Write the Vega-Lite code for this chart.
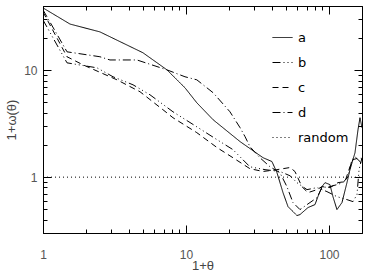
{
  "$schema": "https://vega.github.io/schema/vega-lite/v6.json",
  "width": 319,
  "height": 227,
  "autosize": {"type": "none"},
  "padding": {"left": 43, "top": 6, "right": 7, "bottom": 42},
  "config": {
    "view": {"stroke": "black", "strokeWidth": 1},
    "axis": {
      "grid": false,
      "domainColor": "black",
      "tickColor": "black",
      "labelColor": "#555555",
      "labelFont": "Liberation Sans",
      "labelFontSize": 12,
      "labelOverlap": false,
      "labelFlush": false,
      "titleFont": "Liberation Sans",
      "titleFontSize": 13,
      "titleFontWeight": "normal",
      "titleColor": "#444444"
    }
  },
  "data": {
    "values": [
      {"s": "a", "x": 1, "y": 38.4},
      {"s": "a", "x": 1.545, "y": 27.1},
      {"s": "a", "x": 2.5, "y": 22.9},
      {"s": "a", "x": 5.0, "y": 14.6},
      {"s": "a", "x": 7.36, "y": 10.1},
      {"s": "a", "x": 9.84, "y": 6.86},
      {"s": "a", "x": 11.9, "y": 4.97},
      {"s": "a", "x": 15.5, "y": 3.44},
      {"s": "a", "x": 23.9, "y": 2.15},
      {"s": "a", "x": 34.6, "y": 1.52},
      {"s": "a", "x": 39.9, "y": 1.4},
      {"s": "a", "x": 43.3, "y": 1.1},
      {"s": "a", "x": 47.7, "y": 0.716},
      {"s": "a", "x": 51.7, "y": 0.53},
      {"s": "a", "x": 59.7, "y": 0.437},
      {"s": "a", "x": 62.7, "y": 0.446},
      {"s": "a", "x": 71.3, "y": 0.519},
      {"s": "a", "x": 79.8, "y": 0.553},
      {"s": "a", "x": 83.7, "y": 0.657},
      {"s": "a", "x": 89.3, "y": 0.815},
      {"s": "a", "x": 93.8, "y": 0.888},
      {"s": "a", "x": 101.6, "y": 0.851},
      {"s": "a", "x": 106.6, "y": 0.657},
      {"s": "a", "x": 113.7, "y": 0.497},
      {"s": "a", "x": 123.3, "y": 0.578},
      {"s": "a", "x": 133.6, "y": 0.888},
      {"s": "a", "x": 140.2, "y": 1.175},
      {"s": "a", "x": 152.0, "y": 1.69},
      {"s": "a", "x": 159.6, "y": 2.78},
      {"s": "a", "x": 164.8, "y": 3.6},
      {"s": "a", "x": 170.2, "y": 2.9},

      {"s": "b", "x": 1, "y": 29.6},
      {"s": "b", "x": 1.472, "y": 11.75},
      {"s": "b", "x": 2.386, "y": 10.55},
      {"s": "b", "x": 3.09, "y": 8.7},
      {"s": "b", "x": 4.26, "y": 7.32},
      {"s": "b", "x": 5.6, "y": 5.9},
      {"s": "b", "x": 8.11, "y": 4.09},
      {"s": "b", "x": 11.9, "y": 2.96},
      {"s": "b", "x": 16.5, "y": 2.24},
      {"s": "b", "x": 21.3, "y": 1.81},
      {"s": "b", "x": 28.0, "y": 1.25},
      {"s": "b", "x": 35.7, "y": 1.175},
      {"s": "b", "x": 45.4, "y": 1.13},
      {"s": "b", "x": 53.4, "y": 1.03},
      {"s": "b", "x": 59.7, "y": 0.888},
      {"s": "b", "x": 70.2, "y": 0.764},
      {"s": "b", "x": 82.5, "y": 0.798},
      {"s": "b", "x": 96.8, "y": 0.732},
      {"s": "b", "x": 113.7, "y": 0.657},
      {"s": "b", "x": 133.6, "y": 0.616},
      {"s": "b", "x": 147.2, "y": 0.59},
      {"s": "b", "x": 157.0, "y": 0.686},
      {"s": "b", "x": 162.3, "y": 1.175},
      {"s": "b", "x": 170.2, "y": 1.52},

      {"s": "c", "x": 1, "y": 35.2},
      {"s": "c", "x": 1.472, "y": 13.4},
      {"s": "c", "x": 1.905, "y": 11.25},
      {"s": "c", "x": 3.29, "y": 8.15},
      {"s": "c", "x": 4.77, "y": 6.3},
      {"s": "c", "x": 6.91, "y": 4.27},
      {"s": "c", "x": 8.11, "y": 3.6},
      {"s": "c", "x": 11.9, "y": 2.61},
      {"s": "c", "x": 16.5, "y": 1.89},
      {"s": "c", "x": 21.3, "y": 1.52},
      {"s": "c", "x": 28.0, "y": 1.2},
      {"s": "c", "x": 34.6, "y": 1.13},
      {"s": "c", "x": 43.3, "y": 1.175},
      {"s": "c", "x": 53.4, "y": 1.23},
      {"s": "c", "x": 57.8, "y": 1.13},
      {"s": "c", "x": 64.7, "y": 0.815},
      {"s": "c", "x": 71.3, "y": 0.716},
      {"s": "c", "x": 82.5, "y": 0.764},
      {"s": "c", "x": 89.3, "y": 0.815},
      {"s": "c", "x": 101.6, "y": 0.798},
      {"s": "c", "x": 115.6, "y": 0.888},
      {"s": "c", "x": 129.4, "y": 0.908},
      {"s": "c", "x": 140.2, "y": 1.25},
      {"s": "c", "x": 147.2, "y": 1.46},
      {"s": "c", "x": 164.8, "y": 1.52},
      {"s": "c", "x": 170.2, "y": 1.46},

      {"s": "d", "x": 1, "y": 36.8},
      {"s": "d", "x": 1.472, "y": 14.9},
      {"s": "d", "x": 2.5, "y": 13.4},
      {"s": "d", "x": 2.94, "y": 12.5},
      {"s": "d", "x": 4.54, "y": 12.5},
      {"s": "d", "x": 7.36, "y": 10.1},
      {"s": "d", "x": 9.84, "y": 8.7},
      {"s": "d", "x": 11.9, "y": 8.15},
      {"s": "d", "x": 15.5, "y": 6.16},
      {"s": "d", "x": 20.3, "y": 4.09},
      {"s": "d", "x": 23.9, "y": 2.9},
      {"s": "d", "x": 25.9, "y": 2.39},
      {"s": "d", "x": 28.0, "y": 1.93},
      {"s": "d", "x": 32.9, "y": 1.52},
      {"s": "d", "x": 38.7, "y": 1.25},
      {"s": "d", "x": 45.4, "y": 1.1},
      {"s": "d", "x": 50.8, "y": 0.815},
      {"s": "d", "x": 56.0, "y": 0.578},
      {"s": "d", "x": 62.7, "y": 0.497},
      {"s": "d", "x": 70.2, "y": 0.553},
      {"s": "d", "x": 82.5, "y": 0.643},
      {"s": "d", "x": 89.3, "y": 0.798},
      {"s": "d", "x": 101.6, "y": 0.815},
      {"s": "d", "x": 113.7, "y": 0.851},
      {"s": "d", "x": 125.3, "y": 0.888},
      {"s": "d", "x": 135.8, "y": 1.01},
      {"s": "d", "x": 144.9, "y": 1.46},
      {"s": "d", "x": 152.0, "y": 1.55},
      {"s": "d", "x": 164.8, "y": 1.4},
      {"s": "d", "x": 170.2, "y": 1.31},

      {"s": "random", "x": 1, "y": 1},
      {"s": "random", "x": 170.2, "y": 1}
    ]
  },
  "layer": [
    {
      "transform": [{"filter": "datum.s != 'random'"}],
      "mark": {"type": "line", "color": "black", "strokeWidth": 1, "clip": true},
      "encoding": {
        "x": {
          "field": "x", "type": "quantitative",
          "scale": {"type": "log", "domain": [1, 170.2], "nice": false},
          "axis": {
            "orient": "bottom",
            "values": [1,2,3,4,5,6,7,8,9,10,20,30,40,50,60,70,80,90,100],
            "labelExpr": "(datum.value == 1 || datum.value == 10 || datum.value == 100) ? format(datum.value, 'd') : ''",
            "tickSize": {"condition": {"test": "datum.value == 1 || datum.value == 10 || datum.value == 100", "value": -8}, "value": -4},
            "labelPadding": 24,
            "title": "1+θ",
            "titlePadding": -5
          }
        },
        "y": {
          "field": "y", "type": "quantitative",
          "scale": {"type": "log", "domain": [0.3, 40], "nice": false},
          "axis": {
            "orient": "left",
            "values": [0.4,0.5,0.6,0.7,0.8,0.9,1,2,3,4,5,6,7,8,9,10,20,30],
            "labelExpr": "(datum.value == 1 || datum.value == 10) ? format(datum.value, 'd') : ''",
            "tickSize": {"condition": {"test": "datum.value == 1 || datum.value == 10", "value": -8}, "value": -4},
            "labelPadding": 14,
            "title": "1+ω(θ)",
            "titlePadding": 5
          }
        },
        "strokeDash": {
          "field": "s", "type": "nominal",
          "scale": {
            "domain": ["a", "b", "c", "d", "random"],
            "range": [[1, 0], [8, 3, 1, 3, 1, 3, 1, 3], [6, 4], [8, 3, 1, 3], [1, 3]]
          },
          "legend": {
            "orient": "none",
            "legendX": 229,
            "legendY": 21,
            "title": null,
            "padding": 0,
            "symbolType": "stroke",
            "symbolSize": 400,
            "symbolStrokeWidth": 1,
            "symbolStrokeColor": "black",
            "labelFont": "DejaVu Sans",
            "labelFontSize": 13,
            "labelColor": "black",
            "labelOffset": 5,
            "rowPadding": 7
          }
        }
      }
    },
    {
      "transform": [{"filter": "datum.s == 'random'"}],
      "mark": {"type": "line", "color": "black", "strokeWidth": 1, "clip": true},
      "encoding": {
        "x": {
          "field": "x", "type": "quantitative",
          "axis": {
            "orient": "top",
            "values": [1,2,3,4,5,6,7,8,9,10,20,30,40,50,60,70,80,90,100],
            "labels": false,
            "tickSize": {"condition": {"test": "datum.value == 1 || datum.value == 10 || datum.value == 100", "value": -8}, "value": -4},
            "title": null
          }
        },
        "y": {
          "field": "y", "type": "quantitative",
          "axis": {
            "orient": "right",
            "values": [0.4,0.5,0.6,0.7,0.8,0.9,1,2,3,4,5,6,7,8,9,10,20,30],
            "labels": false,
            "tickSize": {"condition": {"test": "datum.value == 1 || datum.value == 10", "value": -8}, "value": -4},
            "title": null
          }
        },
        "strokeDash": {"field": "s", "type": "nominal"}
      }
    }
  ],
  "resolve": {"axis": {"x": "independent", "y": "independent"}}
}
